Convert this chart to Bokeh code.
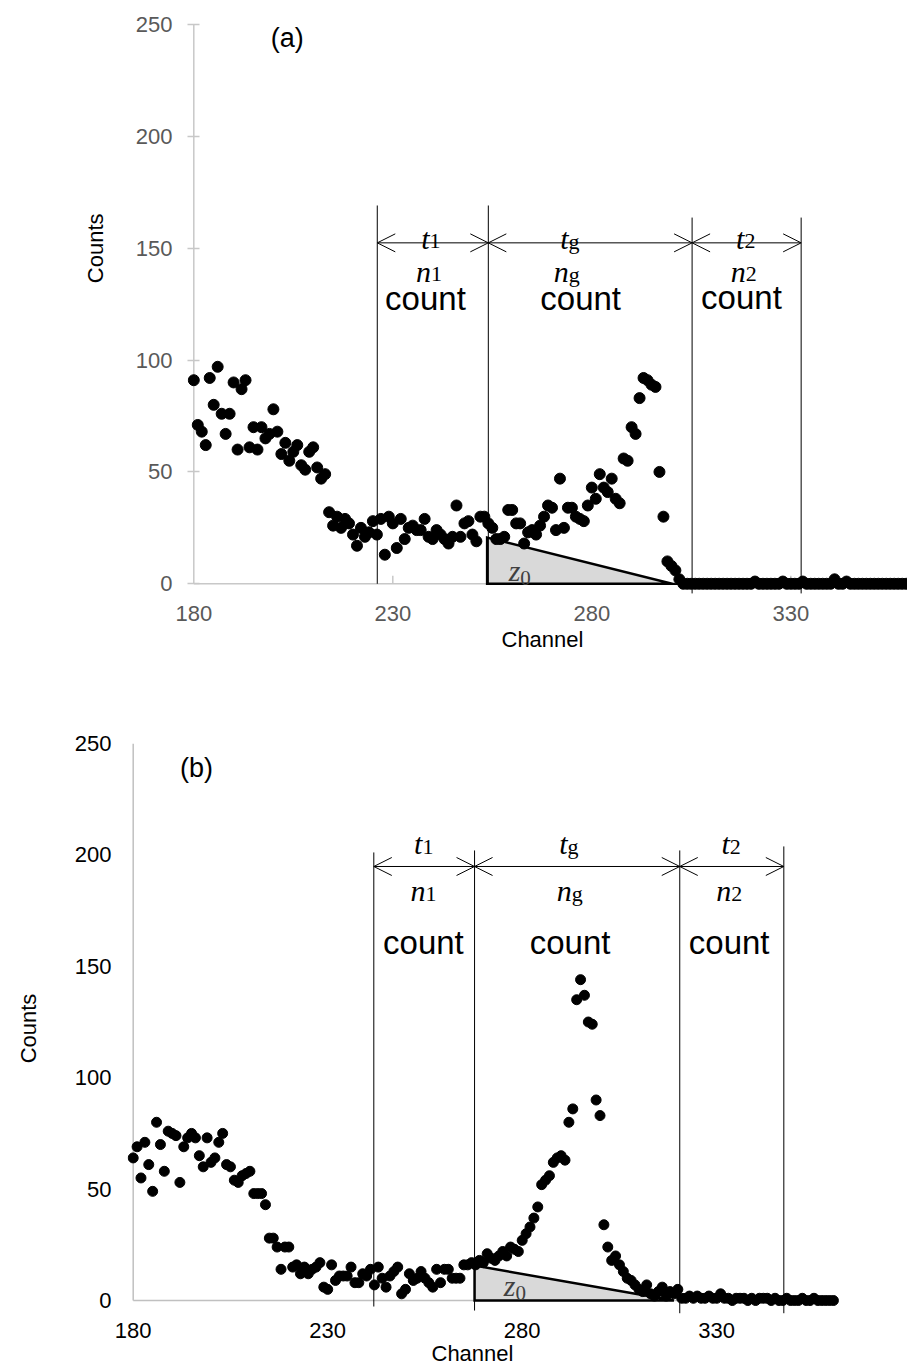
from bokeh.plotting import figure
from bokeh.models import Range1d, FixedTicker, Arrow, OpenHead, Title
from bokeh.layouts import column
from bokeh.embed import file_html
from bokeh.resources import INLINE
from bokeh.core.properties import value

# ---------------- data ----------------
channels_a = list(range(180, 360))
counts_a = [
    91, 71, 68, 62, 92, 80, 97, 76, 67, 76,
    90, 60, 87, 91, 61, 70, 60, 70, 65, 67,
    78, 68, 58, 63, 55, 59, 62, 53, 51, 59,
    61, 52, 47, 49, 32, 26, 30, 25, 29, 27,
    22, 17, 25, 21, 23, 28, 22, 29, 13, 30,
    27, 16, 29, 20, 25, 26, 24, 24, 29, 21,
    20, 24, 22, 20, 18, 21, 35, 21, 27, 28,
    22, 19, 30, 30, 27, 25, 20, 20, 21, 33,
    33, 27, 27, 18, 23, 24, 22, 26, 30, 35,
    34, 24, 47, 25, 34, 34, 30, 29, 28, 35,
    43, 38, 49, 43, 41, 47, 38, 36, 56, 55,
    70, 67, 83, 92, 91, 89, 88, 50, 30, 10,
    8, 6, 2, 0, 0, 0, 0, 0, 0, 0,
    0, 0, 0, 0, 0, 0, 0, 0, 0, 0,
    0, 1, 0, 0, 0, 0, 0, 0, 1, 0,
    0, 0, 0, 1, 0, 0, 0, 0, 0, 0,
    0, 2, 0, 0, 1, 0, 0, 0, 0, 0,
    0, 0, 0, 0, 0, 0, 0, 0, 0, 0,
]

channels_b = list(range(180, 361))
counts_b = [
    64, 69, 55, 71, 61, 49, 80, 70, 58, 76,
    75, 74, 53, 69, 73, 75, 73, 65, 60, 73,
    62, 64, 71, 75, 61, 60, 54, 53, 56, 57,
    58, 48, 48, 48, 43, 28, 28, 24, 14, 24,
    24, 15, 16, 12, 15, 12, 14, 15, 17, 6,
    5, 16, 9, 11, 11, 11, 15, 8, 8, 12,
    11, 14, 7, 15, 10, 6, 11, 13, 15, 3,
    5, 12, 9, 10, 13, 10, 8, 6, 14, 8,
    14, 14, 10, 10, 10, 16, 16, 17, 16, 18,
    17, 21, 19, 18, 20, 22, 20, 24, 23, 22,
    27, 30, 33, 37, 42, 52, 54, 56, 62, 64,
    65, 63, 80, 86, 135, 144, 137, 125, 124, 90,
    83, 34, 24, 18, 20, 16, 13, 10, 9, 7,
    5, 4, 7, 3, 2, 4, 6, 2, 4, 3,
    5, 1, 1, 2, 1, 2, 1, 1, 2, 1,
    1, 3, 1, 1, 0, 1, 1, 1, 0, 1,
    0, 1, 1, 1, 0, 1, 0, 0, 1, 0,
    0, 0, 1, 0, 0, 1, 0, 0, 0, 0,
    0,
]

x_ticks = [180, 230, 280, 330]
y_ticks = [0, 50, 100, 150, 200, 250]

# window boundaries (channel): start of t1, start of tg, end of tg, end of t2
bounds_a = [226.1, 254.0, 305.2, 332.6]
bounds_b = [241.85, 267.75, 320.5, 347.25]

# baseline triangle below the peak: left channel, left height, right channel
tri_a = [253.7, 20.7, 300.2]
tri_b = [267.75, 15.7, 319.0]

SANS = "Liberation Sans"
SERIF = "Liberation Serif"


def make_panel(channels, counts, cfg):
    x0, x1 = cfg["xr"]
    y0, y1 = cfg["yr"]
    p = figure(width=907, height=cfg["height"], output_backend="svg",
               toolbar_location=None, x_range=Range1d(x0, x1),
               y_range=Range1d(y0, y1),
               min_border_left=cfg["left"], min_border_right=cfg["right"],
               min_border_top=cfg["top"], min_border_bottom=cfg["bottom"])
    # each panel keeps its own frame inside the column
    if "frame_align" in p.properties():
        p.frame_align = False
    p.outline_line_color = None
    p.grid.visible = False
    p.background_fill_color = "white"

    xa, ya_ = p.xaxis[0], p.yaxis[0]
    for ax in (xa, ya_):
        ax.axis_line_color = None
        ax.minor_tick_line_color = None
        ax.major_label_text_font = SANS
        ax.major_label_text_font_size = "22px"
        ax.major_label_text_color = cfg["tick_color"]
        ax.axis_label_text_font = SANS
        ax.axis_label_text_font_size = "22px"
        ax.axis_label_text_font_style = "normal"
        ax.axis_label_text_color = "black"
    xa.ticker = FixedTicker(ticks=x_ticks)
    ya_.ticker = FixedTicker(ticks=y_ticks)

    xa.major_tick_line_color = None
    xa.major_label_standoff = cfg["xstand"]
    p.add_layout(Title(text="Channel", align="left", vertical_align="top",
                       offset=cfg["ch_off"], standoff=cfg["ch_stand"],
                       text_font=SANS, text_font_size="22px",
                       text_font_style="normal", text_color="black"),
                 "below")

    # y ticks straddle the channel-180 line (frame edge sits 6 px to its left)
    ya_.major_tick_line_color = cfg["axis_color"] if cfg["yticks"] else None
    ya_.major_tick_line_width = 1.5
    ya_.major_tick_in = 12
    ya_.major_tick_out = 0
    ya_.major_label_standoff = cfg["ystand"]
    if cfg["counts_title"]:
        p.add_layout(Title(text="Counts", align="right",
                           vertical_align="bottom",
                           offset=cfg["cnt_off"], standoff=cfg["cnt_stand"],
                           text_font=SANS, text_font_size="22px",
                           text_font_style="normal", text_color="black"),
                     "left")
    else:
        ya_.axis_label = "Counts"
        ya_.axis_label_standoff = cfg["cnt_stand"]

    gray = cfg["axis_color"]
    p.segment(x0=[180, 180], y0=[0, 0], x1=[180, cfg["xend"]], y1=[250, 0],
              line_color=gray, line_width=1.5)
    if cfg["xticks"]:
        ky = cfg["px_y"]
        p.segment(x0=x_ticks[1:], y0=[0] * 3, x1=x_ticks[1:],
                  y1=[8 / ky] * 3, line_color=gray, line_width=1.5)

    # baseline triangle
    tl, th, tr = cfg["tri"]
    p.patch(x=[tl, tl, tr], y=[0, th, 0], fill_color="#d9d9d9",
            line_color="black", line_width=2.5, line_join="miter")

    # window boundaries
    b = cfg["bounds"]
    p.segment(x0=b, x1=b, y0=cfg["line_bot"], y1=cfg["line_top"],
              line_color="black", line_width=1)

    # double-headed arrows for the three windows
    yarr = cfg["arrow_y"]
    for xs, xe in ((b[0], b[1]), (b[1], b[2]), (b[2], b[3])):
        p.add_layout(Arrow(x_start=xs, y_start=yarr, x_end=xe, y_end=yarr,
                           start=OpenHead(size=18, line_width=1),
                           end=OpenHead(size=18, line_width=1),
                           line_width=1))

    # data points
    p.scatter(channels, counts, size=cfg["dot"], fill_color="black",
              line_color="black")

    # window labels: italic letter with upright subscript, then "count"
    for (cx, letter, sub, yb, split) in cfg["symbols"]:
        p.text(x=[cx], y=[yb], text=[letter], text_font=value(SERIF),
               text_font_style="italic", text_font_size="30px",
               text_align="right", text_baseline="alphabetic",
               x_offset=split)
        p.text(x=[cx], y=[yb], text=[sub], text_font=value(SERIF),
               text_font_size="22px", text_align="left",
               text_baseline="alphabetic", x_offset=split, y_offset=3)
    for (cx, yb) in cfg["counts_lbl"]:
        p.text(x=[cx], y=[yb], text=["count"], text_font=value(SANS),
               text_font_size="33px", text_align="center",
               text_baseline="alphabetic")

    # z0 label inside the triangle
    zx, zy = cfg["z0"]
    p.text(x=[zx], y=[zy], text=["z"], text_font=value(SERIF),
           text_font_style="italic", text_font_size="30px",
           text_color="#404040", text_align="right",
           text_baseline="alphabetic", x_offset=1)
    p.text(x=[zx], y=[zy], text=["0"], text_font=value(SERIF),
           text_font_size="21px", text_color="#404040", text_align="left",
           text_baseline="alphabetic", x_offset=1, y_offset=7)

    # panel tag
    px_, py_ = cfg["tag_pos"]
    p.text(x=[px_], y=[py_], text=[cfg["tag"]], text_font=value(SANS),
           text_font_size="27px", text_align="center", text_baseline="middle")
    return p


cfg_a = dict(
    height=660, left=187, right=0, top=24, bottom=64,
    xr=(178.417, 359.32), yr=(-5.68, 250.0), xend=359.4,
    px_y=2.237,
    tick_color="#595959", axis_color="#c8c8c8", yticks=True, xticks=True,
    xstand=3, ch_off=314, ch_stand=7,
    ystand=15, counts_title=True, cnt_off=189, cnt_stand=49,
    tri=tri_a, bounds=bounds_a,
    line_bot=[0, 0, -4.3, -4.3], line_top=[169.1, 169.1, 163.7, 163.7],
    arrow_y=152.4, dot=11,
    symbols=[
        (239.5, "t", "1", 154.4, -1), (274.4, "t", "g", 154.4, -1),
        (318.6, "t", "2", 154.4, -1),
        (239.1, "n", "1", 139.7, 2), (273.7, "n", "g", 139.7, 2),
        (318.2, "n", "2", 139.7, 2),
    ],
    counts_lbl=[(238.2, 127.4), (277.2, 127.4), (317.6, 128.0)],
    z0=(261.8, 5.9),
    tag="(a)", tag_pos=(203.5, 243.8),
)

cfg_b = dict(
    height=710, left=127, right=67, top=83, bottom=57,
    xr=(178.535, 361.82), yr=(-5.83, 250.0), xend=361.0,
    px_y=2.228,
    tick_color="black", axis_color="#c0c0c0", yticks=False, xticks=False,
    xstand=3, ch_off=304, ch_stand=0,
    ystand=16, counts_title=False, cnt_off=0, cnt_stand=31,
    tri=tri_b, bounds=bounds_b,
    line_bot=[-2.7, -4.5, -5.8, -5.8], line_top=[201.1, 202.0, 202.0, 203.8],
    arrow_y=194.8, dot=10,
    symbols=[
        (254.6, "t", "1", 205.1, -1), (291.9, "t", "g", 205.1, -1),
        (333.6, "t", "2", 205.1, -1),
        (254.6, "n", "1", 184.0, 2), (292.2, "n", "g", 184.0, 2),
        (333.2, "n", "2", 184.0, 2),
    ],
    counts_lbl=[(254.6, 160.7), (292.3, 160.7), (333.2, 160.7)],
    z0=(278.0, 6.7),
    tag="(b)", tag_pos=(196.3, 239.2),
)

pa = make_panel(channels_a, counts_a, cfg_a)
pb = make_panel(channels_b, counts_b, cfg_b)

layout = column(pa, pb, spacing=0)
open("out.html", "w").write(file_html(layout, INLINE))
